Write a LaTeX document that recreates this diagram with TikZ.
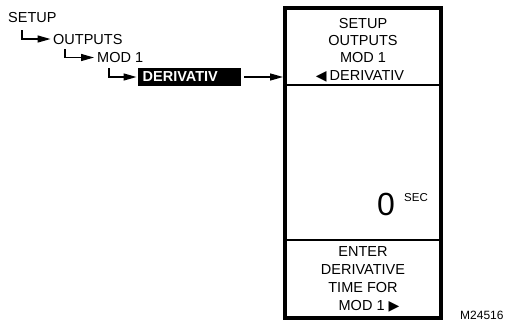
\documentclass[tikz,border=0pt]{standalone}
\usepackage{fontspec}
\setmainfont{Liberation Sans}
\newfontfamily\symfont{DejaVu Sans}
\usetikzlibrary{arrows.meta}
\tikzset{
  txt/.style={inner sep=0pt, anchor=base, font=\fontsize{14.5}{17}\selectfont},
  treetxt/.style={inner sep=0pt, anchor=base west, font=\fontsize{14.5}{17}\selectfont},
  treeline/.style={line width=1.3pt, -{Triangle[length=13pt,width=7pt]}},
  divider/.style={line width=1.4pt},
}
\newcommand{\lefttri}{{\symfont\fontsize{14}{14}\selectfont ◀}}
\newcommand{\righttri}{{\symfont\fontsize{14}{14}\selectfont ▶}}
\begin{document}
\begin{tikzpicture}[x=1pt,y=-1pt]
\useasboundingbox[fill=white] (0,0) rectangle (507,324);
% tree
\node[treetxt] (setup) at (8,23) {SETUP};
\node[treetxt] (outputs) at (53,44) {OUTPUTS};
\node[treetxt] (mod) at (97,62.5) {MOD 1};
\node[inner xsep=4.5pt, inner ysep=0pt, anchor=west, fill=black, text=white,
      minimum height=18pt, text width=94pt, align=left,
      font=\fontsize{14.5}{17}\selectfont\bfseries] (deriv) at (138,77) {DERIVATIV};
\coordinate (c1) at (22,30);
\coordinate (c2) at (65,49);
\coordinate (c3) at (109,68);
\draw[treeline, shorten >=2.5pt] (c1) |- (outputs.west);
\draw[treeline, shorten >=3pt] (c2) |- (mod.west);
\draw[treeline, shorten >=1.5pt] (c3) |- (deriv.west);
% panel
\node[draw, line width=4pt, minimum width=156pt, minimum height=310pt, inner sep=0pt, outer sep=0pt] (panel) at (363,163) {};
\coordinate (d1l) at (285,85); \coordinate (d1r) at (441,85);
\coordinate (d2l) at (285,240); \coordinate (d2r) at (441,240);
\draw[divider] (d1l) -- (d1r);
\draw[divider] (d2l) -- (d2r);
\coordinate (pin) at (283,77);
\draw[treeline, shorten <=3pt] (deriv.east) -- (pin);
% top section text
\node[txt] (t1) at (363,28) {SETUP};
\node[txt] (t2) at (363,45.5) {OUTPUTS};
\node[txt] (t3) at (363,63) {MOD 1};
\node[txt] (t4) at (360,81) {\lefttri\hspace{3pt}DERIVATIV};
% value
\node[inner sep=0pt, anchor=base, font=\fontsize{32}{32}\selectfont] (zero) at (386,215) {0};
\node[inner sep=0pt, anchor=base west, font=\fontsize{11.5}{12}\selectfont] (sec) at (404,201) {SEC};
% bottom section text
\node[txt] (b1) at (363,256.5) {ENTER};
\node[txt] (b2) at (363,274) {DERIVATIVE};
\node[txt] (b3) at (363,292) {TIME FOR};
\node[txt] (b4) at (369,310) {MOD 1\hspace{4pt}\righttri};
% figure id
\node[inner sep=0pt, anchor=base west, font=\fontsize{12}{12}\selectfont] (fid) at (460,319) {M24516};
\end{tikzpicture}
\end{document}
